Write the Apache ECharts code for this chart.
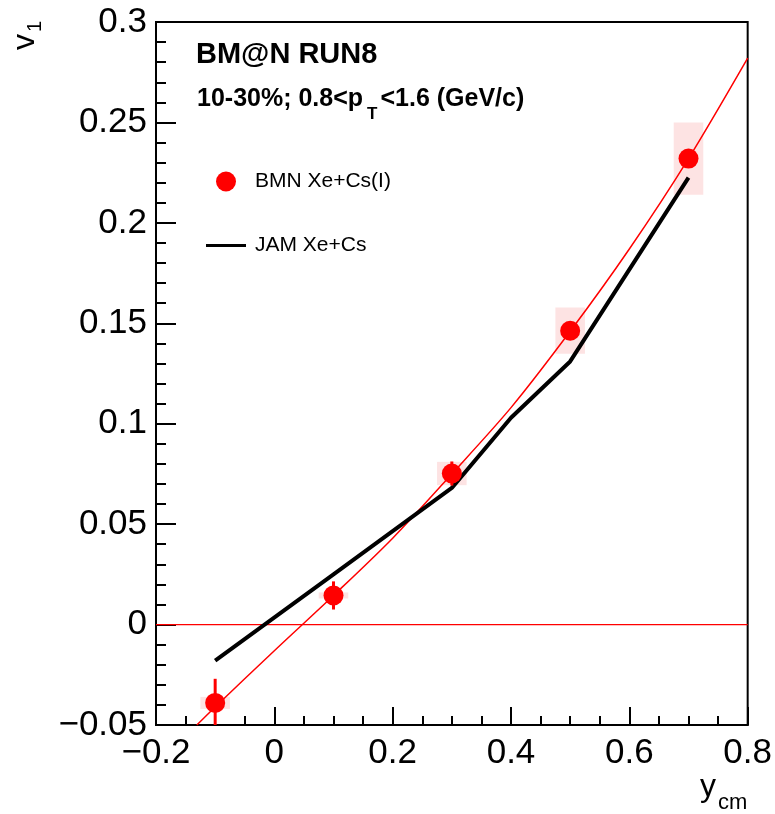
<!DOCTYPE html>
<html><head><meta charset="utf-8">
<script src="https://cdn.jsdelivr.net/npm/echarts@6/dist/echarts.min.js"></script>
<style>html,body{margin:0;padding:0;background:#fff}#c{width:775px;height:814px}</style>
</head><body><div id="c"></div>
<script>
// ---- data ----
const bmnX = [-0.1, 0.1, 0.3, 0.5, 0.7];
const bmnY = [-0.039, 0.0145, 0.0752, 0.1463, 0.232];
const bmnStat = [0.012, 0.007, 0.006, 0.004, 0.004];
const bmnSys = [0.003, 0.0015, 0.0058, 0.0115, 0.018];
const sysHalfWidth = 0.025;
const jamX = [-0.1, 0.1, 0.3, 0.4, 0.5, 0.7];
const jamY = [-0.018, 0.025, 0.068, 0.103, 0.131, 0.2225];
const fitX = [-0.131, -0.1, 0.0, 0.1, 0.2, 0.3, 0.4, 0.5, 0.6, 0.7, 0.8];
const fitY = [-0.05, -0.041, -0.013, 0.0145, 0.043, 0.075, 0.108, 0.146, 0.187, 0.232, 0.282];
const xRange = [-0.2, 0.8], xStep = 0.2;
const yRange = [-0.05, 0.3], yStep = 0.05;
const seriesNames = ['BMN Xe+Cs(I)', 'JAM Xe+Cs'];
const titleText = 'BM@N RUN8';
const subText = ['10-30%; 0.8<p', 'T', '<1.6 (GeV/c)'];

const FONT = '"Liberation Sans", Arial, Helvetica, sans-serif';
function tw(text, size, weight) {
  const c = document.createElement('canvas').getContext('2d');
  c.font = (weight || 'normal') + ' ' + size + 'px ' + FONT;
  return c.measureText(text).width;
}
const fmt = v => String(+(+v).toFixed(3)).replace('-', '\u2212');

const chart = echarts.init(document.getElementById('c'), null, {renderer: 'canvas'});
const subSize = 25, subX = 197;
const w1 = tw(subText[0], subSize, 'bold');
const wT = tw(subText[1], 17, 'bold');

const option = {
  animation: false,
  backgroundColor: '#fff',
  grid: {left: 156, right: 26, top: 22, bottom: 89, show: true, borderColor: '#000', borderWidth: 2, backgroundColor: 'transparent'},
  xAxis: {
    type: 'value', min: xRange[0], max: xRange[1], interval: xStep,
    axisLine: {onZero: false, lineStyle: {color: '#000', width: 2}},
    axisTick: {inside: true, length: 18, lineStyle: {color: '#000', width: 2}},
    minorTick: {show: true, splitNumber: 4, length: 9, lineStyle: {color: '#000', width: 2}},
    splitLine: {show: false},
    axisLabel: {color: '#000', fontSize: 35, fontFamily: FONT, margin: 11, formatter: fmt}
  },
  yAxis: {
    type: 'value', min: yRange[0], max: yRange[1], interval: yStep,
    axisLine: {show: true, onZero: false, lineStyle: {color: '#000', width: 2}},
    axisTick: {show: true, inside: true, length: 20, lineStyle: {color: '#000', width: 2}},
    minorTick: {show: true, splitNumber: 5, length: 10, lineStyle: {color: '#000', width: 2}},
    splitLine: {show: false},
    axisLabel: {color: '#000', fontSize: 35, fontFamily: FONT, margin: 9, formatter: fmt}
  },
  legend: {
    data: [
      {name: seriesNames[0], icon: 'circle'},
      {name: seriesNames[1], icon: 'path://M0,0 H40 V3 H0 Z'}
    ],
    orient: 'vertical', left: 206, top: 171, padding: 0,
    itemWidth: 40, itemHeight: 20, itemGap: 43, symbolKeepAspect: true,
    textStyle: {fontSize: 21, fontFamily: FONT, color: '#000', padding: [0, 0, 0, 4]}
  },
  series: [
    {
      type: 'custom', name: 'sys', z: 1, clip: true,
      data: bmnX.map((x, i) => [x, bmnY[i], bmnSys[i]]),
      renderItem: (params, api) => {
        const x = api.value(0), y = api.value(1), d = api.value(2);
        const p1 = api.coord([x - sysHalfWidth, y + d]);
        const p2 = api.coord([x + sysHalfWidth, y - d]);
        return {type: 'rect', shape: {x: p1[0], y: p1[1], width: p2[0] - p1[0], height: p2[1] - p1[1]},
          style: {fill: 'rgba(240,40,40,0.13)'}};
      }
    },
    {
      type: 'line', name: 'zero', z: 2, symbol: 'none', silent: true,
      data: [[xRange[0], 0], [xRange[1], 0]],
      lineStyle: {color: '#ff0000', width: 1.2}
    },
    {
      type: 'line', name: 'fit', z: 3, symbol: 'none', smooth: 0.3, clip: true,
      data: fitX.map((x, i) => [x, fitY[i]]),
      lineStyle: {color: '#ff0000', width: 1.5}
    },
    {
      type: 'line', name: seriesNames[1], z: 4, symbol: 'none',
      data: jamX.map((x, i) => [x, jamY[i]]),
      itemStyle: {color: '#000'},
      lineStyle: {color: '#000', width: 4}
    },
    {
      type: 'custom', name: 'stat', z: 5, clip: true,
      data: bmnX.map((x, i) => [x, bmnY[i], bmnStat[i]]),
      renderItem: (params, api) => {
        const x = api.value(0), y = api.value(1), d = api.value(2);
        const p1 = api.coord([x, y + d]);
        const p2 = api.coord([x, y - d]);
        return {type: 'line', shape: {x1: p1[0], y1: p1[1], x2: p2[0], y2: p2[1]},
          style: {stroke: '#ff0000', lineWidth: 3}};
      }
    },
    {
      type: 'scatter', name: seriesNames[0], z: 6, symbol: 'circle', symbolSize: 20,
      data: bmnX.map((x, i) => [x, bmnY[i]]),
      itemStyle: {color: '#ff0000', opacity: 1}
    }
  ],
  graphic: [
    {type: 'text', x: 196, y: 55, style: {text: titleText, font: 'bold 29px ' + FONT, fill: '#000', verticalAlign: 'middle'}},
    {type: 'text', x: subX, y: 99, style: {text: subText[0], font: 'bold ' + subSize + 'px ' + FONT, fill: '#000', verticalAlign: 'middle'}},
    {type: 'text', x: subX + w1 + 4, y: 114, style: {text: subText[1], font: 'bold 17px ' + FONT, fill: '#000', verticalAlign: 'middle'}},
    {type: 'text', x: subX + w1 + wT + 7, y: 99, style: {text: subText[2], font: 'bold ' + subSize + 'px ' + FONT, fill: '#000', verticalAlign: 'middle'}},
    {type: 'group', x: 41, y: 50, rotation: Math.PI / 2, children: [
      {type: 'text', x: 0, y: 0, style: {text: 'v', font: '32px ' + FONT, fill: '#000', verticalAlign: 'bottom', align: 'left'}},
      {type: 'text', x: 18, y: 4, style: {text: '1', font: '20px ' + FONT, fill: '#000', verticalAlign: 'bottom', align: 'left'}}
    ]},
    {type: 'text', x: 700, y: 803, style: {text: 'y', font: '32px ' + FONT, fill: '#000', verticalAlign: 'bottom'}},
    {type: 'text', x: 718, y: 814, style: {text: 'cm', font: '22px ' + FONT, fill: '#000', verticalAlign: 'bottom'}}
  ]
};
chart.setOption(option);
</script>
</body></html>
